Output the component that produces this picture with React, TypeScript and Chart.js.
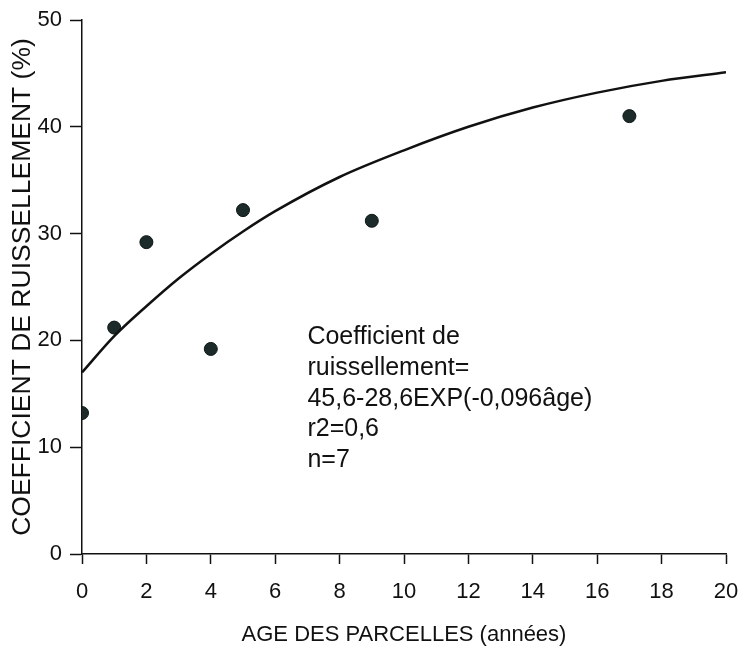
import React, { useEffect, useRef } from "react";
import { Chart, registerables } from "chart.js";

Chart.register(...registerables);

// Observed points
const ages = [0, 1, 2, 4, 5, 9, 17];
const coefficients = [13.2, 21.2, 29.2, 19.2, 32.2, 31.2, 41.0];

// Fitted curve
const curveAges = [0, 1, 2, 3, 4, 5, 6, 8, 10, 12, 14, 16, 18, 20];
const curveValues = [17.0, 20.4, 23.2, 25.8, 28.1, 30.2, 32.1, 35.3, 37.8, 40.0, 41.8, 43.2, 44.3, 45.1];

const xTitle = "AGE DES PARCELLES (années)";
const yTitle = "COEFFICIENT DE RUISSELLEMENT (%)";

const noteLines = [
  "Coefficient de",
  "ruissellement=",
  "45,6-28,6EXP(-0,096âge)",
  "r2=0,6",
  "n=7",
];
const noteAnchorX = 7;
const noteAnchorY = 20.3;

const FONT = "'Liberation Sans', Arial, Helvetica, sans-serif";
const INK = "#111111";

const notePlugin = {
  id: "note",
  afterDatasetsDraw(chart: any) {
    const { ctx, scales } = chart;
    const x = scales.x.getPixelForValue(noteAnchorX);
    const y0 = scales.y.getPixelForValue(noteAnchorY);
    ctx.save();
    ctx.font = `25px ${FONT}`;
    ctx.fillStyle = INK;
    ctx.textAlign = "left";
    ctx.textBaseline = "middle";
    noteLines.forEach((line, i) => {
      ctx.fillText(line, x, y0 + i * 30.8);
    });
    ctx.restore();
  },
};

export default function App() {
  const ref = useRef<HTMLCanvasElement | null>(null);

  useEffect(() => {
    if (!ref.current) return;
    const chart = new Chart(ref.current, {
      type: "scatter",
      data: {
        datasets: [
          {
            label: "courbe",
            data: curveAges.map((a, i) => ({ x: a, y: curveValues[i] })),
            showLine: true,
            borderColor: INK,
            borderWidth: 2.5,
            pointRadius: 0,
            cubicInterpolationMode: "monotone",
            fill: false,
          } as any,
          {
            label: "points",
            data: ages.map((a, i) => ({ x: a, y: coefficients[i] })),
            pointRadius: 6.5,
            pointBackgroundColor: "#1c2a2a",
            pointBorderColor: "#0d1515",
            pointBorderWidth: 1,
            showLine: false,
          },
        ],
      },
      options: {
        responsive: false,
        animation: false,
        layout: { padding: { left: 0, top: 20, right: 15, bottom: 0 } },
        plugins: {
          legend: { display: false },
          tooltip: { enabled: false },
        },
        scales: {
          x: {
            type: "linear",
            min: 0,
            max: 20,
            ticks: {
              stepSize: 2,
              color: INK,
              font: { family: FONT, size: 22 },
              padding: 15,
              maxRotation: 0,
            },
            grid: {
              display: true,
              drawOnChartArea: false,
              drawTicks: true,
              tickLength: 10,
              tickColor: INK,
              tickWidth: 1.5,
            },
            border: { display: true, color: INK, width: 1.5 },
            title: {
              display: true,
              text: xTitle,
              color: INK,
              font: { family: FONT, size: 22 },
              padding: { top: 0, bottom: 8 },
            },
            afterFit(scale: any) {
              scale.height = 102;
              scale.paddingLeft = 0;
              scale.paddingRight = 0;
            },
          },
          y: {
            type: "linear",
            min: 0,
            max: 50,
            ticks: {
              stepSize: 10,
              color: INK,
              font: { family: FONT, size: 22 },
              padding: 8,
            },
            grid: {
              display: true,
              drawOnChartArea: false,
              drawTicks: true,
              tickLength: 12,
              tickColor: INK,
              tickWidth: 1.5,
            },
            border: { display: true, color: INK, width: 1.5 },
            title: {
              display: true,
              text: yTitle,
              color: INK,
              font: { family: FONT, size: 26.5 },
              padding: { top: 7, bottom: 0 },
            },
            afterFit(scale: any) {
              scale.width = 82;
              scale.paddingTop = 0;
              scale.paddingBottom = 0;
            },
          },
        },
      },
      plugins: [notePlugin],
    });
    return () => chart.destroy();
  }, []);

  return (
    <div style={{ position: "absolute", left: 0, top: 0, width: 741, height: 656, background: "#fff" }}>
      <canvas ref={ref} width={741} height={656} style={{ display: "block" }} />
    </div>
  );
}
